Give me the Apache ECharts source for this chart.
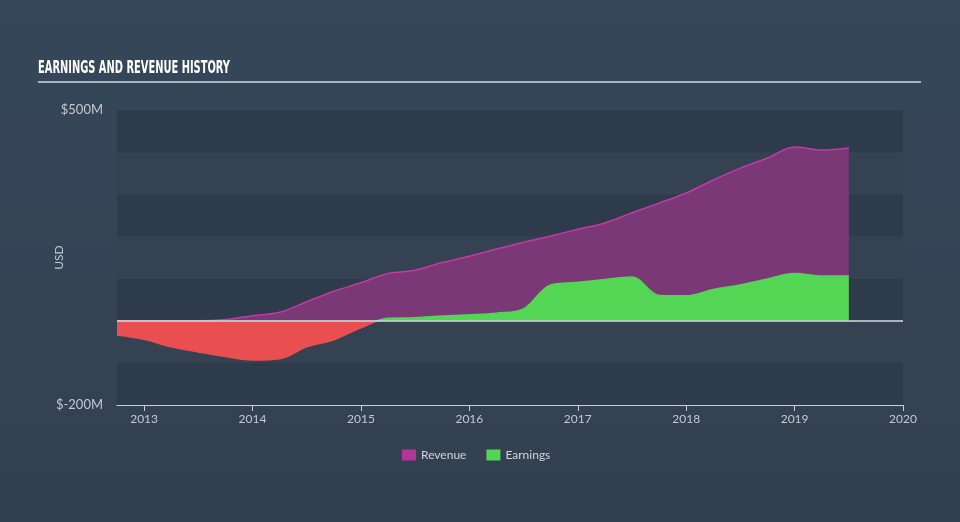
<!DOCTYPE html>
<html>
<head>
<meta charset="utf-8">
<script src="https://cdn.jsdelivr.net/npm/echarts@6/dist/echarts.min.js"></script>
<style>
html,body{margin:0;padding:0;background:#344251;}
#wrap{position:relative;width:960px;height:522px;background:linear-gradient(180deg,#36475a 0%,#334050 100%);}
#title{position:absolute;left:38px;top:57px;font-family:"Liberation Sans Narrow","DejaVu Sans Condensed","DejaVu Sans";font-weight:bold;font-size:18px;line-height:20px;color:#fff;white-space:nowrap;transform-origin:left top;}
#rule{position:absolute;left:38px;top:81px;width:883px;height:2px;background:#a9b2bd;}
#chart{position:absolute;left:0;top:0;width:960px;height:522px;}
</style>
</head>
<body>
<div id="wrap">
<div id="chart"></div>
<div id="title">EARNINGS AND REVENUE HISTORY</div>
<div id="rule"></div>
</div>
<script>
// Quarter ends (year-month)
const quarters = ['2012-09','2012-12','2013-03','2013-06','2013-09','2013-12','2014-03','2014-06','2014-09','2014-12',
  '2015-03','2015-06','2015-09','2015-12','2016-03','2016-06','2016-09','2016-12','2017-03','2017-06',
  '2017-09','2017-12','2018-03','2018-06','2018-09','2018-12','2019-03','2019-06'];
// Values in $M
const revenue = [0,0,0,0,3,12,20,45,70,90,112,120,138,153,170,186,201,217,232,256,279,303,334,362,386,412,405,410];
const earnings = [-34,-44,-62,-74,-85,-93,-90,-62,-45,-17,6,7,11,14,18,28,85,91,98,104,60,59,74,85,99,112,106,106];
const xTicks = [2013,2014,2015,2016,2017,2018,2019,2020];
const yMin = -200, yMax = 500, yStep = 100;

// fit title width
(function(){const t=document.getElementById('title');const w=t.getBoundingClientRect().width;t.style.transform='scaleX('+(192/w)+')';})();

function toYear(q){const p=q.split('-');return +p[0]+ (+p[1])/12;}
const revData = quarters.map((q,i)=>[toYear(q),revenue[i]]);
const earnData = quarters.map((q,i)=>[toYear(q),earnings[i]]);

const GREEN='#52d653', RED='#e94e50';
const zf = yMax/(yMax-yMin);
const gridTop=110, gridBottom=117, H=522;
const signGrad = {type:'linear',x:0,y:gridTop,x2:0,y2:H-gridBottom,global:true,
  colorStops:[{offset:0,color:GREEN},{offset:zf,color:GREEN},{offset:zf,color:RED},{offset:1,color:RED}]};

const chart = echarts.init(document.getElementById('chart'));
const axisTxt = '#c3c9d1';
chart.setOption({
  animation:false,
  textStyle:{fontFamily:'Lato, "Open Sans", sans-serif'},
  grid:{left:117,right:57,top:gridTop,bottom:gridBottom},
  legend:{
    bottom:56,left:397,itemWidth:14,itemHeight:11,itemGap:20,
    icon:'rect',
    textStyle:{color:'#d0d5db',fontSize:12},
    data:[{name:'Revenue',itemStyle:{color:'#b0369a'}},{name:'Earnings',itemStyle:{color:GREEN}}]
  },
  xAxis:{
    type:'value',min:toYear(quarters[0]),max:2020,
    axisLine:{show:true,onZero:false,lineStyle:{color:'#c8cfd8',width:1}},
    axisTick:{show:true,customValues:xTicks,length:6,lineStyle:{color:'#c8cfd8'}},
    axisLabel:{customValues:xTicks,color:axisTxt,fontSize:12,margin:8,formatter:v=>String(Math.round(v))},
    splitLine:{show:false}
  },
  yAxis:{
    type:'value',min:yMin,max:yMax,interval:yStep,
    name:'USD',nameLocation:'middle',nameGap:52,nameRotate:90,nameMoveOverlap:false,
    nameTextStyle:{color:axisTxt,fontSize:12},
    axisLine:{show:false},axisTick:{show:false},
    axisLabel:{color:axisTxt,fontSize:13,margin:14,
      formatter:v=> (v===yMax||v===yMin) ? ('$'+v+'M') : ''},
    splitLine:{show:false},
    splitArea:{show:true,areaStyle:{color:['#2e3b4a','#344252']}}
  },
  series:[
    {
      name:'Revenue',type:'line',data:revData,smooth:0.35,symbol:'none',
      lineStyle:{color:'#c23aa6',width:1.5},
      itemStyle:{color:'#b0369a'},
      areaStyle:{color:'#7a3877',opacity:1},
      z:2
    },
    {
      name:'Earnings',type:'line',data:earnData,smooth:0.35,symbol:'none',
      lineStyle:{width:1.5,color:signGrad},
      itemStyle:{color:GREEN},
      areaStyle:{opacity:1,color:signGrad},
      z:3,
      markLine:{
        silent:true,symbol:'none',label:{show:false},
        lineStyle:{color:'#d5dbe2',width:1.5,type:'solid'},
        data:[{yAxis:0}]
      }
    }
  ]
});
</script>
</body>
</html>
